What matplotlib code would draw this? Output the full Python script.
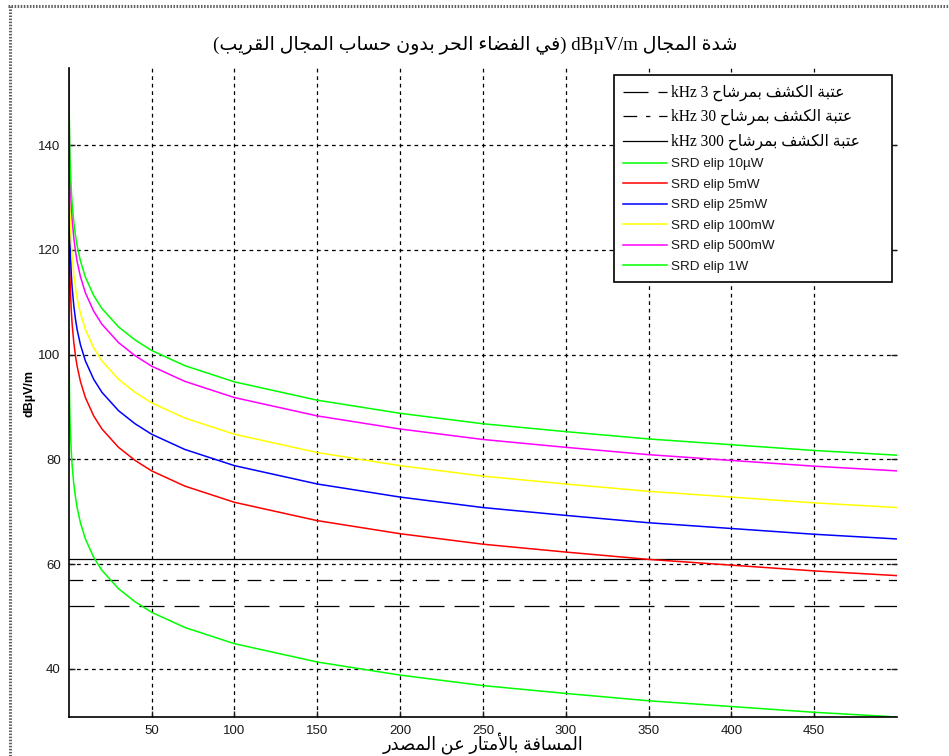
import matplotlib
matplotlib.use("Agg")
import matplotlib.pyplot as plt
from matplotlib.lines import Line2D

# ---------------- data ----------------
distance_m = [0.1, 0.2, 0.3, 0.5, 0.7, 1, 1.5, 2, 3, 4, 5, 7, 10, 15, 20, 30, 40,
              50, 70, 100, 150, 200, 250, 300, 350, 400, 450, 500]

srd_10uW = [104.8, 98.8, 95.3, 90.8, 87.7, 84.8, 81.3, 78.8, 75.3, 72.8, 70.8, 67.9,
            64.8, 61.3, 58.8, 55.3, 52.8, 50.8, 47.9, 44.8, 41.3, 38.8, 36.8, 35.3,
            33.9, 32.8, 31.7, 30.8]
srd_5mW = [131.8, 125.8, 122.3, 117.8, 114.7, 111.8, 108.3, 105.8, 102.3, 99.8, 97.8,
           94.9, 91.8, 88.3, 85.8, 82.3, 79.8, 77.8, 74.9, 71.8, 68.3, 65.8, 63.8,
           62.3, 60.9, 59.8, 58.7, 57.8]
srd_25mW = [138.8, 132.8, 129.3, 124.8, 121.7, 118.8, 115.3, 112.8, 109.3, 106.8, 104.8,
            101.9, 98.8, 95.3, 92.8, 89.3, 86.8, 84.8, 81.9, 78.8, 75.3, 72.8, 70.8,
            69.3, 67.9, 66.8, 65.7, 64.8]
srd_100mW = [144.8, 138.8, 135.3, 130.8, 127.7, 124.8, 121.3, 118.8, 115.3, 112.8, 110.8,
             107.9, 104.8, 101.3, 98.8, 95.3, 92.8, 90.8, 87.9, 84.8, 81.3, 78.8, 76.8,
             75.3, 73.9, 72.8, 71.7, 70.8]
srd_500mW = [151.8, 145.8, 142.3, 137.8, 134.7, 131.8, 128.3, 125.8, 122.3, 119.8, 117.8,
             114.9, 111.8, 108.3, 105.8, 102.3, 99.8, 97.8, 94.9, 91.8, 88.3, 85.8, 83.8,
             82.3, 80.9, 79.8, 78.7, 77.8]
srd_1W = [154.8, 148.8, 145.3, 140.8, 137.7, 134.8, 131.3, 128.8, 125.3, 122.8, 120.8,
          117.9, 114.8, 111.3, 108.8, 105.3, 102.8, 100.8, 97.9, 94.8, 91.3, 88.8, 86.8,
          85.3, 83.9, 82.8, 81.7, 80.8]

threshold_values = [52, 57, 61]
threshold_khz = ["3", "30", "300"]
srd_labels = ["SRD elip 10\u00b5W", "SRD elip 5mW", "SRD elip 25mW",
              "SRD elip 100mW", "SRD elip 500mW", "SRD elip 1W"]

x_ticks = [50, 100, 150, 200, 250, 300, 350, 400, 450]
y_ticks = [40, 60, 80, 100, 120, 140]

title_ar_1 = "شدة المجال"
title_ar_2 = "في الفضاء الحر بدون حساب المجال القريب"
xlabel_ar = "المسافة بالأمتار عن المصدر"
legend_ar = "عتبة الكشف بمرشاح"
unit = "dB\u00b5V/m"

# ---------------- minimal Arabic shaping (presentation forms, visual order) -------
FORMS = {
    "ء": ("\uFE80",),
    "أ": ("\uFE83", "\uFE84"),
    "ا": ("\uFE8D", "\uFE8E"),
    "ب": ("\uFE8F", "\uFE90", "\uFE91", "\uFE92"),
    "ة": ("\uFE93", "\uFE94"),
    "ت": ("\uFE95", "\uFE96", "\uFE97", "\uFE98"),
    "ج": ("\uFE9D", "\uFE9E", "\uFE9F", "\uFEA0"),
    "ح": ("\uFEA1", "\uFEA2", "\uFEA3", "\uFEA4"),
    "د": ("\uFEA9", "\uFEAA"),
    "ر": ("\uFEAD", "\uFEAE"),
    "س": ("\uFEB1", "\uFEB2", "\uFEB3", "\uFEB4"),
    "ش": ("\uFEB5", "\uFEB6", "\uFEB7", "\uFEB8"),
    "ص": ("\uFEB9", "\uFEBA", "\uFEBB", "\uFEBC"),
    "ض": ("\uFEBD", "\uFEBE", "\uFEBF", "\uFEC0"),
    "ع": ("\uFEC9", "\uFECA", "\uFECB", "\uFECC"),
    "ف": ("\uFED1", "\uFED2", "\uFED3", "\uFED4"),
    "ق": ("\uFED5", "\uFED6", "\uFED7", "\uFED8"),
    "ك": ("\uFED9", "\uFEDA", "\uFEDB", "\uFEDC"),
    "ل": ("\uFEDD", "\uFEDE", "\uFEDF", "\uFEE0"),
    "م": ("\uFEE1", "\uFEE2", "\uFEE3", "\uFEE4"),
    "ن": ("\uFEE5", "\uFEE6", "\uFEE7", "\uFEE8"),
    "و": ("\uFEED", "\uFEEE"),
    "ي": ("\uFEF1", "\uFEF2", "\uFEF3", "\uFEF4"),
    "LA": ("\uFEFB", "\uFEFC"),
    "LAH": ("\uFEF7", "\uFEF8"),
}
LAM_ALEF = {"ا": "LA", "أ": "LAH"}


def shape_visual(text):
    seq = []
    i = 0
    while i < len(text):
        c = text[i]
        if c == "ل" and i + 1 < len(text) and text[i + 1] in LAM_ALEF:
            seq.append(LAM_ALEF[text[i + 1]])
            i += 2
        else:
            seq.append(c)
            i += 1
    out = []
    for k, c in enumerate(seq):
        if c not in FORMS:
            out.append(c)
            continue
        f = FORMS[c]
        prev = seq[k - 1] if k > 0 else None
        nxt = seq[k + 1] if k + 1 < len(seq) else None
        jp = prev is not None and prev in FORMS and len(FORMS[prev]) == 4
        jn = len(f) == 4 and nxt is not None and nxt in FORMS and len(FORMS[nxt]) >= 2
        if jp and jn:
            g = f[3]
        elif jp:
            g = f[1] if len(f) > 1 else f[0]
        elif jn:
            g = f[2]
        else:
            g = f[0]
        out.append(g)
    return "".join(reversed(out))


AR_FONT = ["Liberation Serif", "DejaVu Sans"]
SANS = ["Liberation Sans", "DejaVu Sans"]

# ---------------- figure ----------------
W, H = 949, 756
fig = plt.figure(figsize=(W / 100, H / 100), dpi=100)
fig.patch.set_facecolor("white")
ax = fig.add_axes([69 / W, 1 - 717 / H, (897 - 69) / W, (717 - 67.7) / H])

dash_styles = [(0, (20, 8)), (0, (11, 7, 3.5, 7)), "-"]
th_handles = []
for val, ls in zip(threshold_values, dash_styles):
    h = ax.axhline(val, color="black", lw=0.9, linestyle=ls)
    th_handles.append(h)

series = [srd_10uW, srd_5mW, srd_25mW, srd_100mW, srd_500mW, srd_1W]
colors = ["#00ff00", "#ff0000", "#0000ff", "#ffff00", "#ff00ff", "#00ff00"]
srd_handles = []
for ys, col in zip(series, colors):
    (h,) = ax.plot(distance_m, ys, color=col, lw=1.1)
    srd_handles.append(h)

ax.set_xlim(0.1, 500)
ax.set_ylim(30.8, 154.8)
ax.set_xticks(x_ticks)
ax.set_yticks(y_ticks)
ax.grid(True, color="black", linestyle=(0, (3, 3)), lw=0.9)
for s in ["top", "right"]:
    ax.spines[s].set_visible(False)
for s in ["left", "bottom"]:
    ax.spines[s].set_linewidth(1.2)
ax.tick_params(direction="in", length=4, width=1, right=True, labelsize=9.5,
               colors="#1a1a1a", pad=6)
for t in ax.get_xticklabels() + ax.get_yticklabels():
    t.set_fontfamily(SANS)

ar_leg = shape_visual(legend_ar)
th_labels = ["kHz " + k + " " + ar_leg for k in threshold_khz]

leg = ax.legend(th_handles + srd_handles, th_labels + srd_labels,
                loc="upper right", bbox_to_anchor=(614 / W, 1 - 281 / H, 278 / W, 206 / H),
                bbox_transform=fig.transFigure, mode="expand", borderaxespad=0,
                fancybox=False, framealpha=1, edgecolor="black", fontsize=9.7,
                handlelength=3.2, handletextpad=0.3, labelspacing=0.6,
                borderpad=0.7)
leg.get_frame().set_linewidth(1.2)
for i, t in enumerate(leg.get_texts()):
    if i < 3:
        t.set_fontfamily(AR_FONT)
        t.set_fontsize(11.2)
    else:
        t.set_fontfamily(SANS)
        t.set_color("#1a1a1a")

title_txt = ("(" + shape_visual(title_ar_2) + ") " + unit + " " + shape_visual(title_ar_1))
fig.text(475 / W, 1 - 45 / H, title_txt, ha="center", va="center",
         fontsize=13.7, family=AR_FONT)
fig.text(483 / W, 1 - 744 / H, shape_visual(xlabel_ar), ha="center", va="center",
         fontsize=12.8, family=AR_FONT)
fig.text(30 / W, 1 - 393 / H, unit, rotation=90, ha="center", va="center",
         fontsize=9, fontweight="bold", family=SANS)

# decorative dotted frame of the original screenshot
fig.add_artist(Line2D([8 / W, 1], [1 - 6 / H, 1 - 6 / H], transform=fig.transFigure,
                      color="#606060", lw=2.2, linestyle=(0, (0.5, 0.5))))
fig.add_artist(Line2D([9.5 / W, 9.5 / W], [0, 1 - 6 / H], transform=fig.transFigure,
                      color="#606060", lw=2.2, linestyle=(0, (0.5, 0.5))))

fig.savefig("out.png", dpi=100, facecolor="white")
